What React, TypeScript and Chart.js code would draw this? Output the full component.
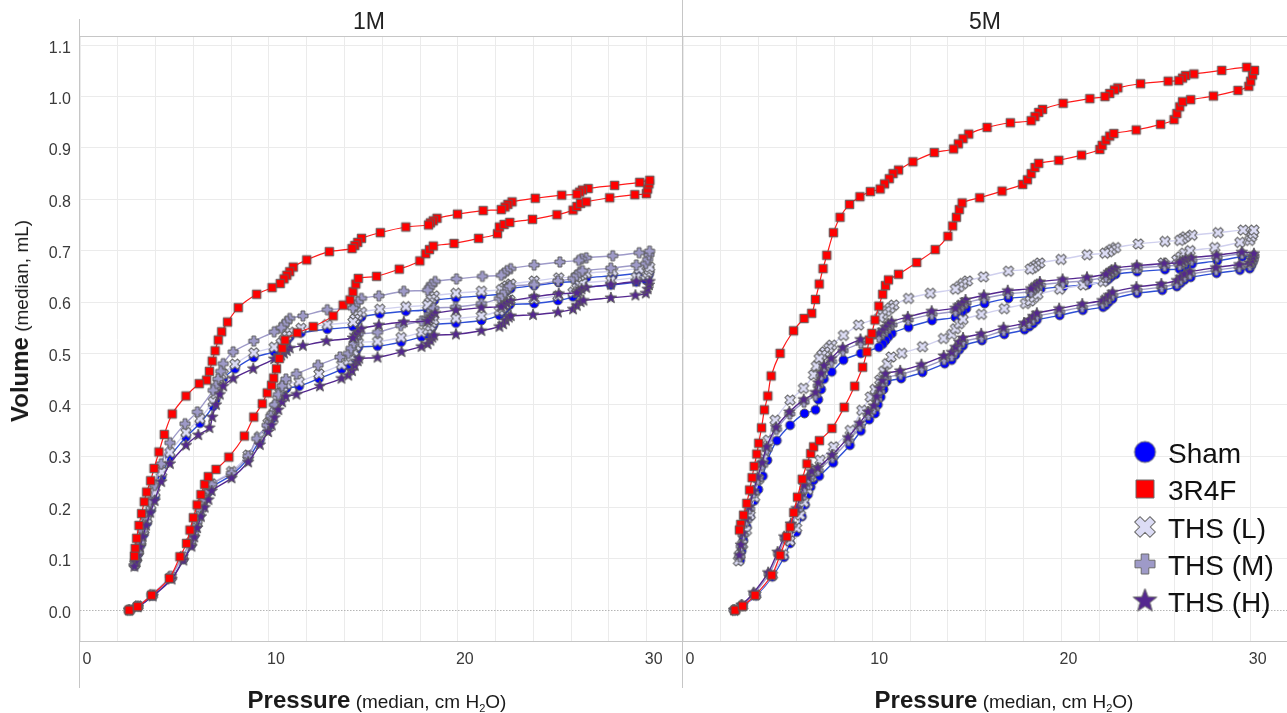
import React, { useEffect, useRef } from "react";
import { Chart, registerables } from "chart.js";

Chart.register(...registerables);

type Pt = [number, number];

const FONT = "'Liberation Sans', Arial, Helvetica, sans-serif";

const panelNames = ["1M", "5M"];
const groupNames = ["Sham", "3R4F", "THS (L)", "THS (M)", "THS (H)"];
const markerKinds = ["circle", "square", "x", "plus", "star"];
const markerFills = ["#0000ff", "#ff0000", "#dcdcf5", "#9e9ac8", "#54278f"];
const lineColors = ["#2e4fd6", "#ff1a1a", "#d0d0ee", "#9e9ac8", "#54278f"];
const xTickLabels = [0, 10, 20, 30];
const yTickStep = 0.1;

// ---------------- 1M ----------------
const sham1M: Pt[] = [
  [2.65, 0], [3.09, 0.007], [3.85, 0.028], [4.85, 0.062], [5.47, 0.099], [5.9, 0.127],
  [6.05, 0.145], [6.2, 0.165], [6.35, 0.185], [6.5, 0.203], [6.65, 0.218], [6.8, 0.23], [6.97, 0.24],
  [8.02, 0.263], [8.9, 0.295], [9.52, 0.331], [9.96, 0.357],
  [10.15, 0.372], [10.3, 0.388], [10.45, 0.403], [10.6, 0.416], [10.75, 0.426], [10.93, 0.432],
  [11.6, 0.436], [12.65, 0.451], [13.85, 0.469],
  [14.2, 0.477], [14.35, 0.485], [14.5, 0.495], [14.62, 0.505], [14.73, 0.512],
  [15.75, 0.514], [17.0, 0.522], [18.08, 0.532],
  [18.4, 0.537], [18.55, 0.544], [18.65, 0.551], [18.72, 0.556],
  [19.9, 0.559], [21.25, 0.564], [22.2, 0.574],
  [22.35, 0.58], [22.5, 0.587], [22.65, 0.592], [22.75, 0.595],
  [24.04, 0.597], [25.3, 0.603],
  [26.1, 0.61], [26.3, 0.618], [26.45, 0.625], [26.6, 0.628],
  [28.1, 0.633], [29.45, 0.639],
  [29.95, 0.643], [30.05, 0.648], [30.12, 0.654], [30.15, 0.659],
  [29.6, 0.656], [28.2, 0.651], [26.8, 0.647], [26.6, 0.645], [26.45, 0.642], [26.3, 0.64],
  [25.34, 0.638], [24.04, 0.632], [22.8, 0.626], [22.6, 0.622], [22.45, 0.618], [22.3, 0.615],
  [21.25, 0.612], [19.9, 0.608], [18.75, 0.603], [18.6, 0.597], [18.5, 0.59], [18.4, 0.585],
  [17.25, 0.582], [15.87, 0.577], [14.9, 0.571], [14.7, 0.565], [14.55, 0.558], [14.45, 0.552],
  [13.09, 0.547], [11.7, 0.54], [11.1, 0.532], [10.95, 0.525], [10.8, 0.518], [10.65, 0.511],
  [10.28, 0.503], [9.2, 0.492], [8.2, 0.47], [7.58, 0.451], [7.45, 0.44], [7.3, 0.425], [7.18, 0.41], [7.05, 0.397],
  [6.35, 0.364], [5.61, 0.337], [4.76, 0.298], [4.32, 0.26], [3.97, 0.22], [3.75, 0.195], [3.55, 0.17],
  [3.38, 0.148], [3.22, 0.127], [3.1, 0.11], [3.0, 0.097], [2.91, 0.086],
];

const r4f1M: Pt[] = [
  [2.6, 0], [3.05, 0.007], [3.79, 0.029], [4.73, 0.062], [5.29, 0.104], [5.64, 0.13],
  [5.82, 0.156], [6.0, 0.18], [6.2, 0.205], [6.4, 0.225], [6.6, 0.245], [6.79, 0.26],
  [7.2, 0.274], [7.88, 0.298], [8.7, 0.339], [9.2, 0.376], [9.65, 0.402], [9.91, 0.423], [10.14, 0.438],
  [10.25, 0.452], [10.4, 0.47], [10.55, 0.49], [10.7, 0.51], [10.85, 0.526],
  [11.5, 0.54], [12.35, 0.552], [13.4, 0.573], [13.93, 0.594],
  [14.29, 0.604], [14.45, 0.62], [14.6, 0.635], [14.73, 0.646],
  [15.7, 0.65], [16.9, 0.664], [17.99, 0.68],
  [18.3, 0.694], [18.5, 0.702], [18.7, 0.709],
  [19.8, 0.714], [21.1, 0.724], [22.1, 0.733],
  [22.2, 0.746], [22.45, 0.751], [22.75, 0.755],
  [23.95, 0.761], [25.25, 0.77],
  [26.1, 0.779], [26.3, 0.786], [26.5, 0.792], [26.8, 0.795],
  [28.04, 0.803], [29.37, 0.809],
  [29.98, 0.811], [30.05, 0.82], [30.12, 0.83], [30.16, 0.837],
  [29.63, 0.833], [28.3, 0.827], [26.9, 0.821], [26.6, 0.818], [26.45, 0.814], [26.3, 0.81],
  [25.5, 0.808], [24.1, 0.802], [22.87, 0.795], [22.65, 0.79], [22.5, 0.785], [22.3, 0.78],
  [21.34, 0.778], [19.98, 0.771], [18.9, 0.763], [18.7, 0.758], [18.55, 0.754], [18.45, 0.75],
  [17.25, 0.746], [15.9, 0.735], [14.9, 0.724], [14.7, 0.716], [14.55, 0.71], [14.4, 0.704],
  [13.2, 0.698], [12.0, 0.682], [11.29, 0.668],
  [11.1, 0.659], [10.95, 0.652], [10.8, 0.645], [10.6, 0.636],
  [10.17, 0.628], [9.35, 0.615], [8.38, 0.589], [7.81, 0.561], [7.5, 0.542],
  [7.32, 0.526], [7.15, 0.505], [7.0, 0.485], [6.85, 0.465], [6.7, 0.448],
  [6.31, 0.441], [5.61, 0.417], [4.88, 0.382], [4.46, 0.342], [4.18, 0.308], [3.92, 0.276],
  [3.74, 0.252], [3.53, 0.23], [3.4, 0.211], [3.26, 0.188], [3.12, 0.165], [3.0, 0.14], [2.92, 0.12], [2.88, 0.105],
];

const thsL1M: Pt[] = [
  [2.62, 0], [3.07, 0.008], [3.83, 0.03], [4.83, 0.065], [5.45, 0.103], [5.88, 0.132],
  [6.03, 0.15], [6.18, 0.17], [6.33, 0.19], [6.5, 0.208], [6.65, 0.223], [6.8, 0.236], [6.97, 0.246],
  [8.02, 0.27], [8.9, 0.302], [9.5, 0.338], [9.95, 0.364],
  [10.15, 0.379], [10.3, 0.395], [10.45, 0.41], [10.6, 0.423], [10.75, 0.434], [10.93, 0.44],
  [11.6, 0.445], [12.65, 0.46], [13.85, 0.478],
  [14.2, 0.486], [14.35, 0.494], [14.5, 0.504], [14.62, 0.514], [14.73, 0.521],
  [15.75, 0.523], [17.0, 0.531], [18.08, 0.541],
  [18.4, 0.546], [18.55, 0.553], [18.65, 0.56], [18.72, 0.565],
  [19.9, 0.568], [21.25, 0.573], [22.2, 0.583],
  [22.35, 0.589], [22.5, 0.596], [22.65, 0.601], [22.75, 0.604],
  [24.04, 0.606], [25.3, 0.612],
  [26.1, 0.619], [26.3, 0.627], [26.45, 0.634], [26.6, 0.637],
  [28.1, 0.642], [29.45, 0.648],
  [29.95, 0.652], [30.05, 0.657], [30.12, 0.663], [30.15, 0.668],
  [29.6, 0.665], [28.2, 0.66], [26.8, 0.656], [26.6, 0.654], [26.45, 0.651], [26.3, 0.649],
  [25.34, 0.647], [24.04, 0.641], [22.8, 0.635], [22.6, 0.631], [22.45, 0.627], [22.3, 0.624],
  [21.25, 0.621], [19.9, 0.617], [18.75, 0.612], [18.6, 0.606], [18.5, 0.599], [18.4, 0.594],
  [17.25, 0.591], [15.87, 0.586], [14.9, 0.58], [14.7, 0.574], [14.55, 0.567], [14.45, 0.561],
  [13.09, 0.556], [11.7, 0.549], [11.1, 0.541], [10.95, 0.534], [10.8, 0.527], [10.65, 0.52],
  [10.28, 0.512], [9.2, 0.501], [8.2, 0.479], [7.58, 0.46], [7.45, 0.449], [7.3, 0.434], [7.18, 0.419], [7.05, 0.406],
  [6.35, 0.373], [5.61, 0.346], [4.76, 0.307], [4.32, 0.269], [3.97, 0.229], [3.75, 0.204], [3.55, 0.178],
  [3.38, 0.156], [3.22, 0.134], [3.1, 0.116], [3.0, 0.102], [2.91, 0.09],
];

const thsM1M: Pt[] = [
  [2.6, 0], [3.05, 0.008], [3.8, 0.03], [4.8, 0.066], [5.4, 0.104], [5.85, 0.133],
  [6.0, 0.15], [6.2, 0.172], [6.4, 0.195], [6.6, 0.215], [6.8, 0.232], [6.97, 0.245],
  [8.02, 0.267], [8.9, 0.3], [9.35, 0.334], [9.9, 0.36],
  [10.1, 0.378], [10.3, 0.4], [10.5, 0.42], [10.7, 0.437], [10.9, 0.45],
  [11.46, 0.46], [12.6, 0.477], [13.76, 0.493],
  [14.2, 0.5], [14.35, 0.51], [14.5, 0.52], [14.62, 0.53], [14.72, 0.537],
  [15.75, 0.541], [16.98, 0.554], [18.08, 0.563],
  [18.35, 0.568], [18.5, 0.576], [18.62, 0.583], [18.72, 0.588],
  [19.88, 0.59], [21.25, 0.597], [22.2, 0.607],
  [22.35, 0.612], [22.5, 0.62], [22.65, 0.627], [22.75, 0.631],
  [24.04, 0.634], [25.3, 0.641],
  [26.1, 0.646], [26.3, 0.652], [26.45, 0.658], [26.6, 0.661],
  [28.1, 0.666], [29.45, 0.672],
  [29.95, 0.675], [30.05, 0.683], [30.12, 0.692], [30.15, 0.699],
  [29.6, 0.696], [28.2, 0.69], [26.8, 0.686], [26.55, 0.684], [26.4, 0.681],
  [25.4, 0.678], [24.04, 0.672], [22.8, 0.665], [22.6, 0.661], [22.45, 0.656], [22.3, 0.652],
  [21.3, 0.65], [19.93, 0.645], [18.8, 0.64], [18.6, 0.634], [18.5, 0.628], [18.4, 0.623],
  [17.14, 0.621], [15.82, 0.612], [14.9, 0.607], [14.7, 0.6], [14.55, 0.593], [14.45, 0.588],
  [13.09, 0.585], [11.8, 0.573], [11.1, 0.568], [10.95, 0.562], [10.8, 0.556], [10.65, 0.55],
  [10.28, 0.542], [9.2, 0.524], [8.11, 0.503], [7.58, 0.48], [7.45, 0.465], [7.3, 0.45], [7.18, 0.437], [7.05, 0.428],
  [6.21, 0.386], [5.56, 0.363], [4.76, 0.326], [4.3, 0.285], [3.95, 0.243], [3.72, 0.21], [3.5, 0.18],
  [3.32, 0.155], [3.18, 0.132], [3.05, 0.112], [2.95, 0.097], [2.88, 0.088],
];

const thsH1M: Pt[] = [
  [2.6, 0], [3.05, 0.006], [3.85, 0.027], [4.85, 0.06], [5.47, 0.097], [5.9, 0.124],
  [6.05, 0.142], [6.2, 0.16], [6.4, 0.182], [6.6, 0.2], [6.8, 0.215], [6.97, 0.232],
  [8.02, 0.257], [8.9, 0.288], [9.52, 0.322], [9.96, 0.347],
  [10.15, 0.36], [10.3, 0.375], [10.5, 0.39], [10.7, 0.405], [10.9, 0.416],
  [11.46, 0.42], [12.7, 0.436], [13.84, 0.451],
  [14.2, 0.457], [14.4, 0.466], [14.55, 0.476], [14.7, 0.485], [14.78, 0.49],
  [15.75, 0.492], [17.02, 0.503], [18.08, 0.513],
  [18.4, 0.518], [18.55, 0.525], [18.65, 0.531], [18.75, 0.535],
  [19.9, 0.537], [21.25, 0.544], [22.2, 0.552],
  [22.4, 0.557], [22.55, 0.564], [22.7, 0.57], [22.8, 0.573],
  [23.98, 0.575], [25.3, 0.58],
  [26.1, 0.586], [26.3, 0.593], [26.5, 0.6], [26.65, 0.603],
  [28.1, 0.608], [29.4, 0.613],
  [29.95, 0.617], [30.05, 0.625], [30.12, 0.633], [30.15, 0.64],
  [29.45, 0.64], [28.1, 0.634], [26.8, 0.628], [26.55, 0.625], [26.4, 0.621], [26.3, 0.618],
  [25.34, 0.616], [24.04, 0.61], [22.8, 0.602], [22.6, 0.598], [22.45, 0.594], [22.3, 0.591],
  [21.25, 0.589], [19.9, 0.584], [18.8, 0.578], [18.6, 0.572], [18.5, 0.567], [18.4, 0.563],
  [17.14, 0.561], [15.82, 0.555], [14.9, 0.548], [14.7, 0.541], [14.55, 0.535], [14.45, 0.53],
  [13.05, 0.524], [11.8, 0.515], [11.1, 0.51], [10.95, 0.505], [10.8, 0.5], [10.65, 0.496],
  [10.28, 0.489], [9.17, 0.47], [8.11, 0.451], [7.58, 0.436], [7.4, 0.42], [7.2, 0.4], [7.0, 0.376], [6.85, 0.355],
  [6.26, 0.341], [5.61, 0.321], [4.76, 0.285], [4.3, 0.25], [3.95, 0.213], [3.72, 0.19], [3.5, 0.165],
  [3.32, 0.143], [3.18, 0.123], [3.05, 0.106], [2.95, 0.094], [2.88, 0.085],
];

// ---------------- 5M ----------------
const sham5M: Pt[] = [
  [2.75, 0], [3.16, 0.008], [3.86, 0.028], [4.72, 0.065], [5.34, 0.103], [5.66, 0.13], [6.0, 0.152],
  [6.28, 0.182], [6.45, 0.205], [6.6, 0.225], [6.75, 0.24], [6.9, 0.253],
  [7.2, 0.261], [7.94, 0.287], [8.82, 0.321], [9.4, 0.349], [9.84, 0.371],
  [10.15, 0.383], [10.3, 0.4], [10.45, 0.415], [10.6, 0.43], [10.76, 0.445],
  [11.53, 0.451], [12.66, 0.463], [13.83, 0.48],
  [14.2, 0.487], [14.4, 0.497], [14.6, 0.507], [14.8, 0.515],
  [15.8, 0.525], [16.98, 0.537], [18.05, 0.546],
  [18.3, 0.552], [18.5, 0.558], [18.7, 0.565],
  [19.91, 0.574], [21.13, 0.584], [22.2, 0.59],
  [22.35, 0.594], [22.5, 0.6], [22.7, 0.606],
  [24.0, 0.617], [25.33, 0.623],
  [26.1, 0.63], [26.3, 0.637], [26.5, 0.643],
  [26.83, 0.648], [28.2, 0.656], [29.43, 0.662],
  [29.95, 0.665], [30.05, 0.672], [30.12, 0.679], [30.17, 0.686],
  [29.56, 0.688], [28.24, 0.68], [26.9, 0.674], [26.55, 0.671], [26.4, 0.667], [26.25, 0.664],
  [25.47, 0.663], [24.0, 0.659], [22.86, 0.654], [22.65, 0.65], [22.5, 0.645], [22.35, 0.641],
  [21.38, 0.634], [20.1, 0.63], [18.9, 0.625], [18.7, 0.62], [18.55, 0.615], [18.4, 0.611],
  [17.2, 0.607], [15.94, 0.597], [14.97, 0.587], [14.75, 0.58], [14.55, 0.575], [14.4, 0.57],
  [13.16, 0.564], [11.92, 0.551], [11.04, 0.539],
  [10.85, 0.532], [10.7, 0.525], [10.55, 0.518], [10.35, 0.512],
  [9.4, 0.5], [8.48, 0.487], [7.86, 0.464],
  [7.45, 0.45], [7.3, 0.43], [7.15, 0.41], [7.0, 0.39],
  [6.42, 0.383], [5.66, 0.36], [4.96, 0.33], [4.46, 0.292], [4.22, 0.261], [3.98, 0.235], [3.76, 0.213],
  [3.54, 0.182], [3.37, 0.162], [3.19, 0.136], [3.1, 0.115], [3.02, 0.097],
];

const r4f5M: Pt[] = [
  [2.75, 0], [3.15, 0.008], [3.81, 0.029], [4.69, 0.068], [5.13, 0.107], [5.49, 0.143],
  [5.66, 0.162], [5.85, 0.19], [6.05, 0.22], [6.3, 0.255], [6.55, 0.285], [6.75, 0.305], [6.9, 0.318],
  [7.21, 0.33], [7.87, 0.354], [8.52, 0.395], [9.07, 0.436], [9.49, 0.473], [9.72, 0.503], [9.84, 0.526],
  [9.98, 0.539], [10.15, 0.565], [10.35, 0.592], [10.55, 0.615], [10.7, 0.632], [10.86, 0.643],
  [11.39, 0.654], [12.35, 0.677], [13.33, 0.702],
  [14.0, 0.728], [14.25, 0.748], [14.45, 0.765], [14.6, 0.78], [14.75, 0.793],
  [15.68, 0.803], [16.86, 0.816], [17.95, 0.829],
  [18.2, 0.838], [18.4, 0.85], [18.6, 0.862], [18.8, 0.87],
  [19.86, 0.876], [21.06, 0.886], [22.03, 0.897],
  [22.15, 0.905], [22.35, 0.915], [22.55, 0.923], [22.77, 0.928],
  [23.95, 0.935], [25.24, 0.946],
  [25.95, 0.955], [26.1, 0.967], [26.25, 0.98], [26.4, 0.99],
  [26.83, 0.994], [28.03, 1.001], [29.33, 1.012],
  [29.9, 1.02], [30.0, 1.03], [30.1, 1.042], [30.2, 1.051],
  [29.79, 1.057], [28.47, 1.051], [27.0, 1.044], [26.56, 1.041], [26.4, 1.036], [26.2, 1.031],
  [25.64, 1.03], [24.18, 1.025], [22.98, 1.017], [22.8, 1.013], [22.55, 1.006], [22.3, 1.0],
  [21.5, 0.996], [20.09, 0.987], [19.0, 0.975], [18.8, 0.969], [18.6, 0.961], [18.4, 0.953],
  [17.3, 0.949], [16.07, 0.94], [15.1, 0.927], [14.8, 0.918], [14.55, 0.908], [14.3, 0.898],
  [13.28, 0.891], [12.15, 0.873], [11.39, 0.857],
  [11.1, 0.85], [10.9, 0.84], [10.65, 0.83], [10.42, 0.82],
  [9.9, 0.815], [9.35, 0.805], [8.8, 0.79], [8.3, 0.765], [7.95, 0.735],
  [7.6, 0.691], [7.4, 0.665], [7.2, 0.635], [7.0, 0.605], [6.8, 0.578],
  [6.4, 0.568], [5.84, 0.544], [5.13, 0.5], [4.66, 0.456], [4.48, 0.417], [4.3, 0.39], [4.15, 0.355],
  [4.0, 0.325], [3.9, 0.304], [3.76, 0.28], [3.65, 0.258], [3.52, 0.234], [3.37, 0.208], [3.2, 0.185],
  [3.05, 0.167], [2.98, 0.156],
];

const thsL5M: Pt[] = [
  [2.75, 0], [3.15, 0.008], [3.85, 0.03], [4.72, 0.068], [5.3, 0.108], [5.65, 0.135], [6.0, 0.16],
  [6.2, 0.185], [6.4, 0.21], [6.6, 0.235], [6.8, 0.26], [6.95, 0.275],
  [7.25, 0.292], [7.96, 0.318], [8.84, 0.35], [9.45, 0.389], [9.9, 0.415],
  [10.15, 0.43], [10.4, 0.448], [10.6, 0.465], [10.8, 0.48], [11.0, 0.493],
  [11.56, 0.5], [12.66, 0.513], [13.77, 0.529],
  [14.2, 0.537], [14.4, 0.548], [14.6, 0.558], [14.8, 0.566],
  [15.77, 0.576], [16.98, 0.587], [18.1, 0.597],
  [18.35, 0.602], [18.55, 0.609], [18.75, 0.615],
  [19.91, 0.625], [21.15, 0.633], [22.2, 0.64],
  [22.35, 0.647], [22.55, 0.655], [22.75, 0.66],
  [24.0, 0.666], [25.38, 0.676],
  [26.1, 0.682], [26.3, 0.688], [26.5, 0.695],
  [26.8, 0.7], [28.1, 0.706], [29.43, 0.716],
  [29.95, 0.72], [30.05, 0.727], [30.12, 0.733], [30.17, 0.74],
  [29.6, 0.74], [28.28, 0.735], [26.9, 0.73], [26.55, 0.727], [26.4, 0.723], [26.25, 0.72],
  [25.47, 0.718], [24.06, 0.713], [22.86, 0.706], [22.65, 0.702], [22.5, 0.698], [22.3, 0.695],
  [21.36, 0.692], [19.98, 0.683], [18.85, 0.676], [18.65, 0.671], [18.5, 0.667], [18.35, 0.664],
  [17.2, 0.66], [15.88, 0.649], [15.03, 0.641], [14.8, 0.636], [14.6, 0.63], [14.4, 0.625],
  [13.07, 0.617], [11.92, 0.607], [11.14, 0.594], [10.95, 0.588], [10.75, 0.582], [10.55, 0.576], [10.4, 0.57],
  [9.28, 0.555], [8.48, 0.535], [7.86, 0.516],
  [7.7, 0.51], [7.5, 0.503], [7.35, 0.497], [7.2, 0.49], [7.05, 0.475], [6.9, 0.458],
  [6.37, 0.432], [5.66, 0.409], [4.87, 0.37], [4.51, 0.331], [4.25, 0.295], [4.0, 0.255], [3.78, 0.22],
  [3.55, 0.185], [3.35, 0.155], [3.15, 0.128], [3.0, 0.108], [2.93, 0.096],
];

const thsM5M: Pt[] = [
  [2.7, 0], [3.1, 0.009], [3.75, 0.032], [4.55, 0.07], [5.05, 0.11], [5.4, 0.14], [5.75, 0.165],
  [6.05, 0.195], [6.25, 0.218], [6.45, 0.238], [6.65, 0.254], [6.85, 0.265],
  [7.15, 0.272], [7.9, 0.297], [8.75, 0.33], [9.35, 0.358], [9.8, 0.38],
  [10.1, 0.392], [10.25, 0.41], [10.4, 0.425], [10.55, 0.44], [10.72, 0.452],
  [11.5, 0.459], [12.62, 0.471], [13.8, 0.488],
  [14.2, 0.495], [14.4, 0.505], [14.6, 0.515], [14.8, 0.523],
  [15.78, 0.531], [16.95, 0.544], [18.03, 0.553],
  [18.3, 0.559], [18.5, 0.566], [18.7, 0.572],
  [19.9, 0.581], [21.1, 0.59], [22.18, 0.597],
  [22.35, 0.601], [22.5, 0.607], [22.7, 0.613],
  [23.98, 0.623], [25.3, 0.629],
  [26.1, 0.636], [26.3, 0.643], [26.5, 0.649],
  [26.8, 0.654], [28.18, 0.662], [29.4, 0.668],
  [29.95, 0.671], [30.05, 0.677], [30.12, 0.683], [30.17, 0.69],
  [29.55, 0.694], [28.22, 0.687], [26.88, 0.681], [26.55, 0.678], [26.4, 0.675], [26.25, 0.672],
  [25.45, 0.67], [24.0, 0.666], [22.85, 0.661], [22.65, 0.657], [22.5, 0.653], [22.35, 0.649],
  [21.36, 0.642], [20.08, 0.638], [18.88, 0.633], [18.7, 0.628], [18.55, 0.624], [18.4, 0.62],
  [17.18, 0.616], [15.92, 0.607], [14.95, 0.598], [14.75, 0.592], [14.55, 0.587], [14.4, 0.582],
  [13.15, 0.576], [11.9, 0.565], [11.04, 0.555],
  [10.85, 0.55], [10.7, 0.544], [10.55, 0.538], [10.35, 0.532],
  [9.4, 0.52], [8.46, 0.505], [7.85, 0.484],
  [7.45, 0.47], [7.3, 0.455], [7.15, 0.437], [7.0, 0.418],
  [6.4, 0.405], [5.64, 0.382], [4.94, 0.352], [4.44, 0.313], [4.2, 0.282], [3.96, 0.254], [3.74, 0.228],
  [3.52, 0.197], [3.35, 0.174], [3.18, 0.146], [3.08, 0.124], [3.0, 0.104],
];

const thsH5M: Pt[] = [
  [2.7, 0], [3.1, 0.01], [3.73, 0.034], [4.5, 0.073], [5.0, 0.113], [5.35, 0.143], [5.7, 0.168],
  [6.0, 0.198], [6.2, 0.222], [6.4, 0.243], [6.6, 0.259], [6.8, 0.27],
  [7.12, 0.277], [7.88, 0.302], [8.72, 0.336], [9.33, 0.364], [9.78, 0.386],
  [10.08, 0.398], [10.23, 0.416], [10.38, 0.432], [10.53, 0.447], [10.7, 0.46],
  [11.48, 0.466], [12.6, 0.478], [13.78, 0.495],
  [14.2, 0.502], [14.4, 0.512], [14.6, 0.522], [14.8, 0.53],
  [15.76, 0.538], [16.94, 0.55], [18.02, 0.559],
  [18.3, 0.565], [18.5, 0.572], [18.7, 0.578],
  [19.88, 0.587], [21.1, 0.596], [22.16, 0.603],
  [22.35, 0.607], [22.5, 0.613], [22.7, 0.619],
  [23.96, 0.629], [25.28, 0.635],
  [26.1, 0.642], [26.3, 0.648], [26.5, 0.654],
  [26.78, 0.659], [28.16, 0.667], [29.4, 0.673],
  [29.95, 0.676], [30.05, 0.682], [30.12, 0.688], [30.17, 0.694],
  [29.53, 0.697], [28.2, 0.691], [26.86, 0.686], [26.55, 0.683], [26.4, 0.68], [26.25, 0.677],
  [25.43, 0.675], [23.98, 0.671], [22.84, 0.666], [22.65, 0.662], [22.5, 0.658], [22.35, 0.654],
  [21.35, 0.648], [20.06, 0.644], [18.86, 0.639], [18.7, 0.634], [18.55, 0.63], [18.4, 0.626],
  [17.16, 0.622], [15.9, 0.613], [14.93, 0.604], [14.75, 0.598], [14.55, 0.593], [14.4, 0.588],
  [13.14, 0.582], [11.88, 0.571], [11.02, 0.562],
  [10.85, 0.557], [10.7, 0.551], [10.55, 0.545], [10.35, 0.539],
  [9.38, 0.527], [8.44, 0.511], [7.83, 0.49],
  [7.45, 0.476], [7.3, 0.461], [7.15, 0.443], [7.0, 0.424],
  [6.38, 0.41], [5.62, 0.386], [4.92, 0.356], [4.42, 0.318], [4.18, 0.287], [3.94, 0.259], [3.72, 0.232],
  [3.5, 0.201], [3.33, 0.178], [3.16, 0.15], [3.06, 0.127], [2.98, 0.107],
];

const panelSeries: Pt[][][] = [
  [sham1M, r4f1M, thsL1M, thsM1M, thsH1M],
  [sham5M, r4f5M, thsL5M, thsM5M, thsH5M],
];

// ------------- markers -------------
function makeMarker(kind: string, size: number, fill: string, stroke: string): HTMLCanvasElement {
  const S = Math.ceil(size + 4);
  const c = document.createElement("canvas");
  c.width = S;
  c.height = S;
  const g = c.getContext("2d") as CanvasRenderingContext2D;
  g.translate(S / 2, S / 2);
  g.fillStyle = fill;
  g.strokeStyle = stroke;
  g.lineWidth = 1;
  g.lineJoin = "miter";
  const r = size / 2;
  g.beginPath();
  if (kind === "circle") {
    g.arc(0, 0, r, 0, Math.PI * 2);
  } else if (kind === "square") {
    g.rect(-r, -r, size, size);
  } else if (kind === "plus" || kind === "x") {
    if (kind === "x") g.rotate(Math.PI / 4);
    const L = kind === "x" ? r * 1.08 : r;
    const w = r * 0.38;
    const pts = [[-w, -L], [w, -L], [w, -w], [L, -w], [L, w], [w, w], [w, L], [-w, L], [-w, w], [-L, w], [-L, -w], [-w, -w]];
    pts.forEach(([x, y], i) => (i ? g.lineTo(x, y) : g.moveTo(x, y)));
    g.closePath();
  } else {
    for (let i = 0; i < 10; i++) {
      const a = -Math.PI / 2 + (i * Math.PI) / 5;
      const rr = i % 2 === 0 ? r : r * 0.42;
      const x = Math.cos(a) * rr;
      const y = Math.sin(a) * rr;
      if (i) g.lineTo(x, y);
      else g.moveTo(x, y);
    }
    g.closePath();
  }
  g.fill();
  g.stroke();
  return c;
}

const plotSizes = [9, 8.5, 10, 10, 12];
const legendSizes = [21, 18, 20, 20, 25];
let plotMarkerCache: HTMLCanvasElement[] | null = null;
function plotMarkers() {
  if (!plotMarkerCache) {
    plotMarkerCache = markerKinds.map((k, i) => makeMarker(k, plotSizes[i], markerFills[i], "#5a5a5a"));
  }
  return plotMarkerCache;
}
let legendCache: string[] | null = null;
function legendMarkers() {
  if (!legendCache) {
    legendCache = markerKinds.map((k, i) => makeMarker(k, legendSizes[i], markerFills[i], "#6a6a6a").toDataURL());
  }
  return legendCache;
}

const zeroLine = {
  id: "zeroLine",
  beforeDatasetsDraw(chart: any) {
    const { ctx, chartArea, scales } = chart;
    const py = scales.y.getPixelForValue(0);
    ctx.save();
    ctx.strokeStyle = "#b5b5b5";
    ctx.lineWidth = 1;
    ctx.setLineDash([1.5, 1.5]);
    ctx.beginPath();
    ctx.moveTo(chartArea.left, Math.round(py) + 0.5);
    ctx.lineTo(chartArea.right, Math.round(py) + 0.5);
    ctx.stroke();
    ctx.restore();
  },
};

function buildConfig(panel: number, showY: boolean): any {
  const drawOrder = [5, 1, 4, 3, 2];
  const datasets = panelSeries[panel].map((pts, i) => ({
    label: groupNames[i],
    data: pts.map(([x, y]) => ({ x, y })),
    showLine: true,
    borderColor: lineColors[i],
    borderWidth: i === 1 ? 1.2 : 1.4,
    tension: 0.3,
    pointStyle: plotMarkers()[i],
    pointRadius: 5,
    pointHoverRadius: 5,
    order: drawOrder[i],
  }));
  return {
    type: "scatter",
    data: { datasets },
    plugins: [zeroLine],
    options: {
      responsive: false,
      animation: false,
      events: [],
      layout: { autoPadding: false, padding: { top: 37, left: 0, right: 0, bottom: 0 } },
      plugins: { legend: { display: false }, tooltip: { enabled: false }, title: { display: false } },
      scales: {
        x: {
          type: "linear",
          min: 0,
          max: 31.92,
          afterFit: (s: any) => {
            s.height = 71;
            s.paddingLeft = 0;
            s.paddingRight = 0;
          },
          grid: { color: "#ebebeb", lineWidth: 1, drawTicks: false },
          border: { display: false },
          ticks: {
            stepSize: 2,
            includeBounds: false,
            autoSkip: false,
            maxRotation: 0,
            minRotation: 0,
            padding: 8,
            labelOffset: 7,
            color: "#3a3a3a",
            font: { family: FONT, size: 16 },
            callback: (v: number) => (xTickLabels.some((t) => Math.abs(t - v) < 1e-6) ? String(Math.round(v)) : ""),
          },
        },
        y: {
          type: "linear",
          min: -0.062,
          max: 1.116,
          afterFit: (s: any) => {
            s.width = showY ? 80 : 0;
            s.paddingTop = 0;
            s.paddingBottom = 0;
          },
          grid: {
            color: (c: any) => (c.tick && Math.abs(c.tick.value) < 1e-9 ? "rgba(0,0,0,0)" : "#ebebeb"),
            lineWidth: 1,
            drawTicks: false,
          },
          border: { display: false },
          ticks: {
            display: showY,
            stepSize: yTickStep,
            includeBounds: false,
            autoSkip: false,
            padding: 9,
            labelOffset: 3,
            color: "#3a3a3a",
            font: { family: FONT, size: 16 },
            callback: (v: number) => (Math.abs(v) < 1e-9 ? "0.0" : Number(v).toFixed(1)),
          },
        },
      },
    },
  };
}

const frame = (left: number, top: number, width: number, height: number): React.CSSProperties => ({
  position: "absolute",
  left,
  top,
  width,
  height,
  background: "#c6c6c6",
});

export default function App() {
  const leftRef = useRef<HTMLCanvasElement>(null);
  const rightRef = useRef<HTMLCanvasElement>(null);

  useEffect(() => {
    const charts = [
      new Chart(leftRef.current as HTMLCanvasElement, buildConfig(0, true)),
      new Chart(rightRef.current as HTMLCanvasElement, buildConfig(1, false)),
    ];
    return () => charts.forEach((c) => c.destroy());
  }, []);

  const legendRows = [452, 489, 527, 564, 601];
  const markers = legendMarkers();

  const xTitle = (cx: number) => (
    <div
      style={{
        position: "absolute",
        left: cx,
        top: 700,
        transform: "translate(-50%, -50%)",
        whiteSpace: "nowrap",
        lineHeight: 1,
        color: "#1a1a1a",
        fontFamily: FONT,
      }}
    >
      <span style={{ fontWeight: "bold", fontSize: 24 }}>Pressure</span>
      <span style={{ fontSize: 19 }}>
        {" "}(median, cm H<span style={{ fontSize: 11, position: "relative", top: 4 }}>2</span>O)
      </span>
    </div>
  );

  return (
    <div
      style={{
        position: "fixed",
        left: 0,
        top: 0,
        width: 1287,
        height: 713,
        background: "#ffffff",
        overflow: "hidden",
        fontFamily: FONT,
      }}
    >
      <canvas ref={leftRef} width={683} height={713} style={{ position: "absolute", left: 0, top: 0 }} />
      <canvas ref={rightRef} width={604} height={713} style={{ position: "absolute", left: 683, top: 0 }} />

      <div style={frame(79, 36, 1208, 1)} />
      <div style={frame(79, 641, 1208, 1)} />
      <div style={frame(79, 19, 1, 669)} />
      <div style={frame(682, 0, 1, 688)} />

      {panelNames.map((p, i) => (
        <div
          key={p}
          style={{
            position: "absolute",
            left: i === 0 ? 369 : 985,
            top: 21,
            transform: "translate(-50%, -50%)",
            fontSize: 23,
            lineHeight: 1,
            color: "#222",
            whiteSpace: "nowrap",
          }}
        >
          {p}
        </div>
      ))}

      <div
        style={{
          position: "absolute",
          left: 20,
          top: 321,
          transform: "translate(-50%, -50%) rotate(-90deg)",
          whiteSpace: "nowrap",
          lineHeight: 1,
          color: "#1a1a1a",
        }}
      >
        <span style={{ fontWeight: "bold", fontSize: 24 }}>Volume</span>
        <span style={{ fontSize: 19 }}> (median, mL)</span>
      </div>

      {xTitle(377)}
      {xTitle(1004)}

      {groupNames.map((g, i) => (
        <div key={g}>
          <img
            src={markers[i]}
            alt=""
            style={{
              position: "absolute",
              left: 1145,
              top: legendRows[i],
              transform: "translate(-50%, -50%)",
            }}
          />
          <div
            style={{
              position: "absolute",
              left: 1168,
              top: legendRows[i] + 2,
              transform: "translateY(-50%)",
              fontSize: 28,
              lineHeight: 1,
              color: "#111",
              whiteSpace: "nowrap",
            }}
          >
            {g}
          </div>
        </div>
      ))}
    </div>
  );
}
